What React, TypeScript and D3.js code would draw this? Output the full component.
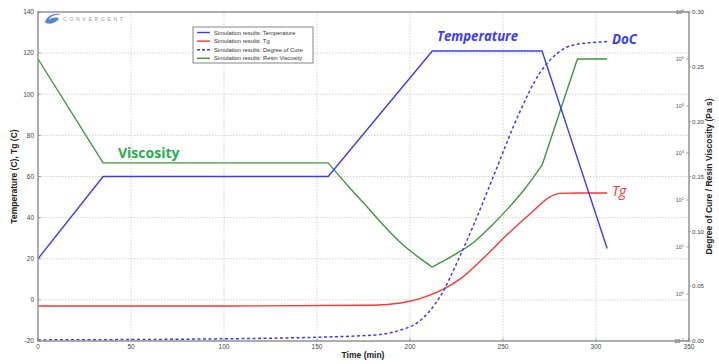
import React from "react";
import * as d3 from "d3";

const W = 719;
const H = 364;

// Temperature (°C), left axis
const tempTime = [0, 35, 156, 212, 271, 306];
const tempVals = [20, 60, 60, 121, 121, 25];

// Tg (°C), left axis
const tgTime = [0, 100, 180, 195, 205, 211, 218, 227, 238, 252, 266, 275, 281, 290, 306];
const tgVals = [-3, -3, -2.6, -1.5, 0.5, 2.4, 5.2, 10.2, 19, 31.5, 43, 50, 51.8, 52, 52];

// Degree of cure, right axis (0 - 0.30)
const docTime = [0, 100, 177, 195, 205, 216, 227, 234, 246, 258, 270, 279, 288, 306];
const docVals = [0.001, 0.002, 0.005, 0.01, 0.018, 0.04, 0.078, 0.105, 0.155, 0.205, 0.245, 0.262, 0.27, 0.273];

// Resin viscosity (Pa s) as log10 values, right log axis
const viscTime = [0, 35, 156, 166, 177, 186, 195, 204, 212, 216, 225, 234, 243, 252, 262, 271, 290, 306];
const viscLog = [5, 2.79, 2.79, 2.33, 1.85, 1.45, 1.09, 0.8, 0.57, 0.66, 0.86, 1.09, 1.42, 1.79, 2.25, 2.74, 5, 5];

const xTicks = [0, 50, 100, 150, 200, 250, 300, 350];
const yTicks = [-20, 0, 20, 40, 60, 80, 100, 120, 140];
const logExps = [-1, 0, 1, 2, 3, 4, 5, 6];
const docTicks = [0, 0.05, 0.1, 0.15, 0.2, 0.25, 0.3];

const legendItems = [
  { label: "Simulation results: Temperature", color: "#3b3bff", dash: "" },
  { label: "Simulation results: Tg", color: "#ff3333", dash: "" },
  { label: "Simulation results: Degree of Cure", color: "#3b3bff", dash: "3,2" },
  { label: "Simulation results: Resin Viscosity", color: "#3a9a3a", dash: "" },
];

const BLUE = "#3b3bff";
const RED = "#ff3333";
const GREEN = "#3a9a3a";

export default function App() {
  const left = 38, right = 689, top = 12, bottom = 341;
  const x = d3.scaleLinear().domain([0, 350]).range([left, right]);
  const yT = d3.scaleLinear().domain([-20, 140]).range([bottom, top]);
  const yLog = d3.scaleLinear().domain([-1, 6]).range([bottom, top]);
  const yDoc = d3.scaleLinear().domain([0, 0.3]).range([bottom, top]);

  const lin = d3.line<[number, number]>().curve(d3.curveLinear);
  const mono = d3.line<[number, number]>().curve(d3.curveMonotoneX);

  const tempPath = lin(tempTime.map((t, i) => [x(t), yT(tempVals[i])]))!;
  const tgPath = mono(tgTime.map((t, i) => [x(t), yT(tgVals[i])]))!;
  const docPath = mono(docTime.map((t, i) => [x(t), yDoc(docVals[i])]))!;

  // viscosity: linear ramps/holds, smooth segments between the hold and the minimum and back up
  const vPts: [number, number][] = viscTime.map((t, i) => [x(t), yLog(viscLog[i])]);
  const iA = viscTime.indexOf(156);
  const iMin = viscTime.indexOf(212);
  const iB = viscTime.indexOf(271);
  const viscPath =
    lin(vPts.slice(0, iA + 1))! +
    mono(vPts.slice(iA, iMin + 1))! +
    mono(vPts.slice(iMin, iB + 1))! +
    lin(vPts.slice(iB))!;

  const font = "'Liberation Sans', Arial, sans-serif";
  const annFont = "'Open Sans', 'Noto Sans', sans-serif";

  return (
    <svg width={W} height={H} style={{ position: "absolute", left: 0, top: 0, background: "#fff" }} fontFamily={font}>
      <rect x={0} y={0} width={W} height={H} fill="#fff" />
      {/* grid */}
      {xTicks.slice(1, -1).map((t) => (
        <line key={"gx" + t} x1={x(t)} x2={x(t)} y1={top} y2={bottom} stroke="#c8c8c8" strokeWidth={0.8} strokeDasharray="1.5,1.5" />
      ))}
      {yTicks.slice(1, -1).map((t) => (
        <line key={"gy" + t} x1={left} x2={right} y1={yT(t)} y2={yT(t)} stroke="#c8c8c8" strokeWidth={0.8} strokeDasharray="1.5,1.5" />
      ))}

      {/* logo */}
      <g>
        <path d="M45,22 C47,14 58,12 61,15 C56,14 50,16 49,20 C52,17 58,17 59,19 C55,24 47,25 45,22 Z" fill="#3a6fc4" opacity={0.85} />
        <text x={63} y={21} fontSize={5.2} fill="#999" letterSpacing={2.6} fontFamily={font}>CONVERGENT</text>
      </g>

      {/* series */}
      <path d={viscPath} fill="none" stroke={GREEN} strokeWidth={1.4} />
      <path d={tgPath} fill="none" stroke={RED} strokeWidth={1.4} />
      <path d={docPath} fill="none" stroke={BLUE} strokeWidth={1.5} strokeDasharray="3,2.5" />
      <path d={tempPath} fill="none" stroke={BLUE} strokeWidth={1.4} />

      {/* frame */}
      <rect x={left} y={top} width={right - left} height={bottom - top} fill="none" stroke="#999" strokeWidth={1.6} />

      {/* left ticks */}
      {yTicks.map((t) => (
        <g key={"yt" + t}>
          <line x1={left} x2={left + 3} y1={yT(t)} y2={yT(t)} stroke="#777" strokeWidth={0.6} />
          <text x={left - 4} y={yT(t) + 2.3} fontSize={6.5} textAnchor="end" fill="#444">{t}</text>
        </g>
      ))}
      {/* x ticks */}
      {xTicks.map((t) => (
        <g key={"xt" + t}>
          <line x1={x(t)} x2={x(t)} y1={bottom} y2={bottom - 3} stroke="#777" strokeWidth={0.6} />
          <text x={x(t)} y={bottom + 8} fontSize={6.5} textAnchor="middle" fill="#444">{t}</text>
        </g>
      ))}
      {/* log ticks (inside, left of right spine) */}
      {logExps.map((e) => (
        <g key={"lt" + e}>
          <line x1={right} x2={right - 3} y1={yLog(e)} y2={yLog(e)} stroke="#777" strokeWidth={0.6} />
          <text x={right - 5} y={yLog(e) + 2} fontSize={5.5} textAnchor="end" fill="#555">
            10<tspan dy={-2.5} fontSize={4}>{e}</tspan>
          </text>
        </g>
      ))}
      {/* DoC ticks */}
      {docTicks.map((d) => (
        <g key={"dt" + d}>
          <line x1={right} x2={right + 2} y1={yDoc(d)} y2={yDoc(d)} stroke="#777" strokeWidth={0.6} />
          <text x={right + 3} y={yDoc(d) + 2.3} fontSize={6.2} textAnchor="start" fill="#444">{d.toFixed(2)}</text>
        </g>
      ))}

      {/* axis labels */}
      <text x={363} y={358} fontSize={8.5} fontWeight="bold" textAnchor="middle" fill="#222">Time (min)</text>
      <text transform={`translate(17,${(top + bottom) / 2}) rotate(-90)`} fontSize={8.5} fontWeight="bold" textAnchor="middle" fill="#222">Temperature (C), Tg (C)</text>
      <text transform={`translate(712,${(top + bottom) / 2}) rotate(-90)`} fontSize={8.5} fontWeight="bold" textAnchor="middle" fill="#222">Degree of Cure / Resin Viscosity (Pa s)</text>

      {/* legend */}
      <g>
        <rect x={193} y={27} width={120} height={36} fill="#fff" stroke="#666" strokeWidth={0.8} />
        {legendItems.map((it, i) => {
          const yy = 32.5 + i * 8.6;
          return (
            <g key={it.label}>
              <line x1={197} x2={210} y1={yy} y2={yy} stroke={it.color} strokeWidth={1.4} strokeDasharray={it.dash || undefined} />
              <text x={214} y={yy + 2} fontSize={5.8} fill="#333">{it.label}</text>
            </g>
          );
        })}
      </g>

      {/* annotations */}
      <text x={118} y={158} fontSize={14} fontWeight="bold" fill="#22b14c" fontFamily={annFont}>Viscosity</text>
      <text x={437} y={41} fontSize={14} fontWeight="bold" fontStyle="italic" fill={BLUE} fontFamily={annFont} textLength={81} lengthAdjust="spacingAndGlyphs">Temperature</text>
      <text x={612} y={44} fontSize={14} fontWeight="bold" fontStyle="italic" fill={BLUE} fontFamily={annFont} textLength={25} lengthAdjust="spacingAndGlyphs">DoC</text>
      <text x={612} y={196} fontSize={14} fontStyle="italic" fill={RED} fontFamily={annFont}>Tg</text>
    </svg>
  );
}
